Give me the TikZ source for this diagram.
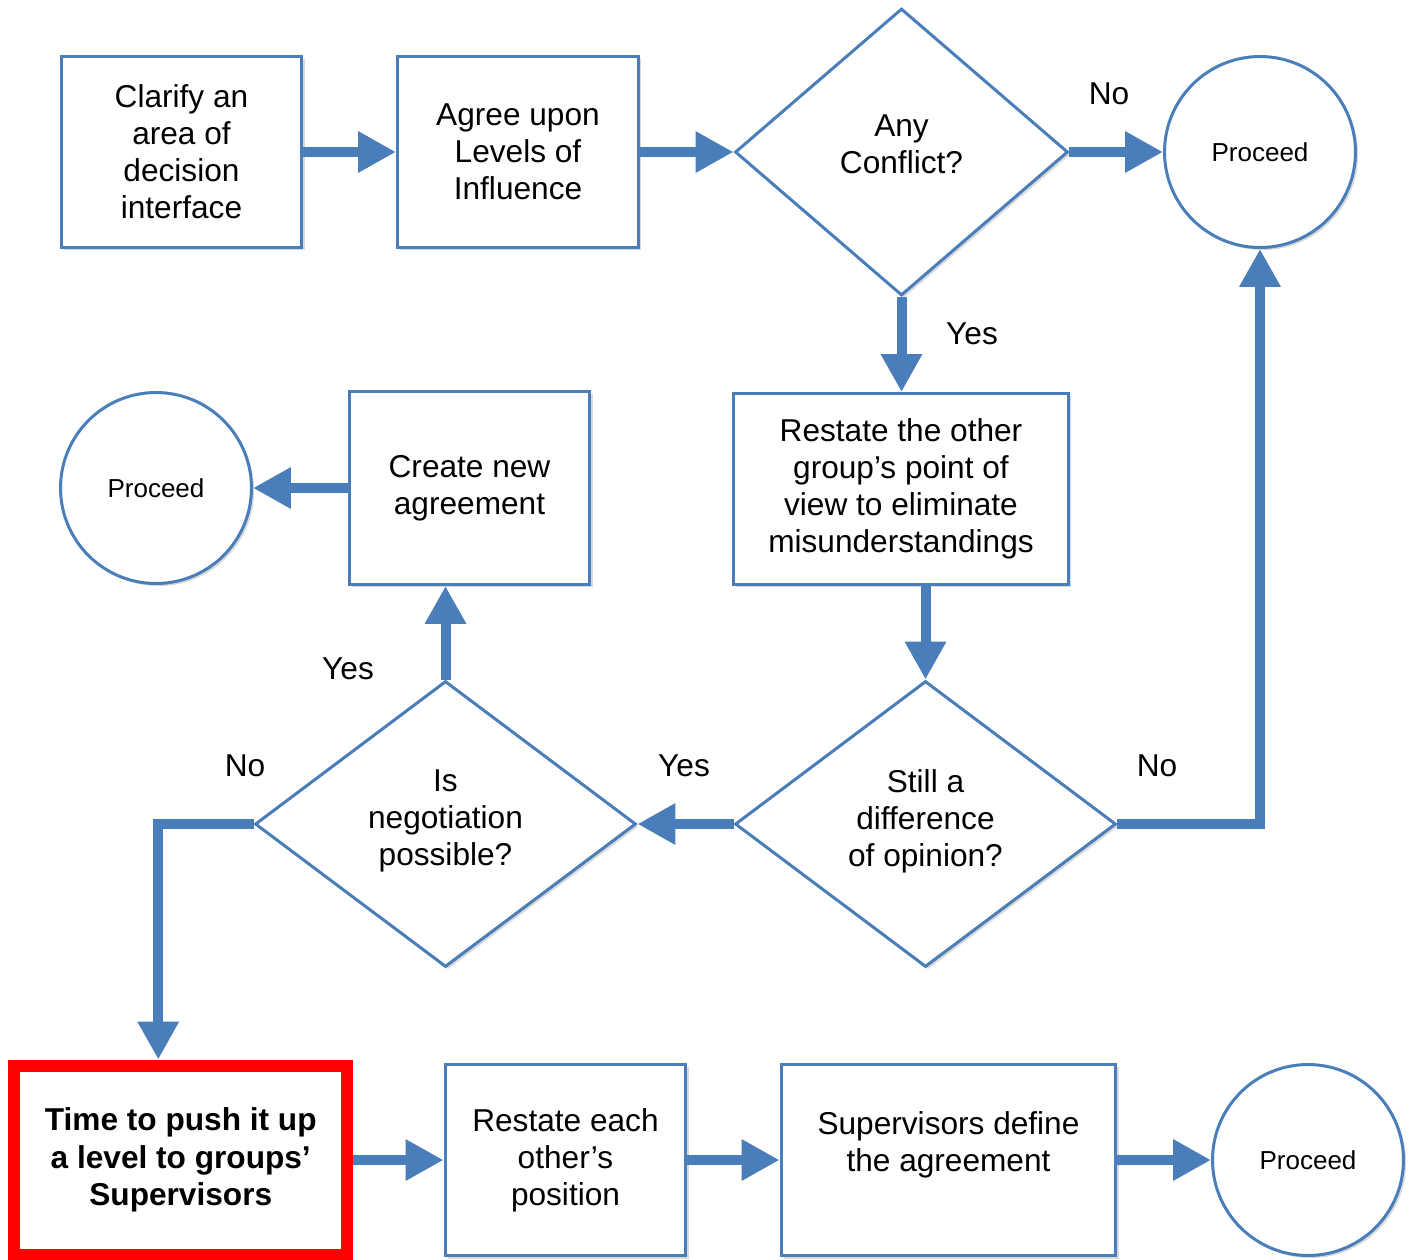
\documentclass[tikz,border=0pt]{standalone}
\usepackage{fontspec}
\setmainfont{Liberation Sans}
\usetikzlibrary{shapes.geometric,arrows.meta,shadows}
\definecolor{flowblue}{RGB}{74,126,187}
\tikzset{
  softshadow/.style={drop shadow={shadow xshift=1.5pt,shadow yshift=-1.5pt,
    opacity=0.15,fill=black}},
  stepbox/.style={rectangle,draw=flowblue,line width=0.06cm,fill=white,
    minimum width=4.82cm,minimum height=3.82cm,inner sep=2pt,align=center,
    font=\fontsize{18}{21}\selectfont,softshadow},
  widebox/.style={stepbox,minimum width=6.7cm},
  decisionnode/.style={diamond,aspect=1.33,draw=flowblue,line width=0.06cm,
    fill=white,minimum width=7.62cm,minimum height=5.72cm,inner sep=0pt,
    align=center,font=\fontsize{18}{21}\selectfont,softshadow},
  proceednode/.style={circle,draw=flowblue,line width=0.06cm,fill=white,
    minimum size=3.82cm,inner sep=0pt,font=\fontsize{14.8}{17}\selectfont,
    softshadow},
  pushbox/.style={rectangle,draw=red,line width=0.24cm,fill=white,
    minimum width=6.67cm,minimum height=3.78cm,inner sep=2pt,align=center,
    font=\fontsize{18}{21.3}\selectfont\bfseries},
  flowarrow/.style={draw=flowblue,line width=0.2cm,line join=miter,
    -{Triangle[length=0.76cm,width=0.78cm]}},
  answerlabel/.style={font=\fontsize{18}{21}\selectfont}
}

\begin{document}
\begin{tikzpicture}[x=0.02cm,y=-0.02cm]
  \useasboundingbox (0,0) rectangle (1411,1259);

  \node[stepbox] (clarify) at (181.5,152)
    {Clarify an\\area of\\decision\\interface};
  \node[stepbox] (agree) at (518,152) {Agree upon\\Levels of\\Influence};
  \node[decisionnode,aspect=1.16,minimum width=6.66cm,minimum height=5.74cm]
    (conflict) at (901.5,152) {Any\\Conflict?\\[-12pt]};
  \node[proceednode] (proceedA) at (1260,152) {Proceed};

  \node[proceednode] (proceedB) at (156,488) {Proceed};
  \node[stepbox,minimum height=3.86cm] (create) at (469.5,488)
    {Create new\\agreement};
  \node[widebox] (restate) at (901,489)
    {Restate the other\\group’s point of\\view to eliminate\\misunderstandings};

  \node[decisionnode] (negotiate) at (445.5,824)
    {Is\\negotiation\\possible?\\[-14pt]};
  \node[decisionnode] (difference) at (925.5,824)
    {Still a\\difference\\of opinion?\\[-14pt]};

  \node[pushbox] (push) at (180.75,1160)
    {Time to push it up\\a level to groups’\\Supervisors};
  \node[stepbox,minimum height=3.84cm] (restateeach) at (565.5,1160)
    {Restate each\\other’s\\position};
  \node[widebox,minimum height=3.84cm] (supervisors) at (948.5,1160)
    {Supervisors define\\the agreement\\\mbox{}};
  \node[proceednode] (proceedC) at (1308,1160) {Proceed};

  \draw[flowarrow] (clarify.east) -- (agree.west);
  \draw[flowarrow] (agree.east |- conflict.west) -- (conflict.west);
  \draw[flowarrow] (conflict.east) -- (proceedA.west);
  \draw[flowarrow] (conflict.south) -- (conflict.south |- restate.north);
  \draw[flowarrow] (restate.south -| difference.north) -- (difference.north);
  \draw[flowarrow] (difference.east) -| (proceedA.south);
  \draw[flowarrow] (difference.west) -- (negotiate.east);
  \draw[flowarrow] (negotiate.north) -- (negotiate.north |- create.south);
  \draw[flowarrow] (create.west) -- (proceedB.east);
  \draw[flowarrow] (negotiate.west) -| ([xshift=-0.45cm]push.north);
  \draw[flowarrow] (push.east) -- (restateeach.west);
  \draw[flowarrow] (restateeach.east) -- (supervisors.west);
  \draw[flowarrow] (supervisors.east) -- (proceedC.west);

  \node[answerlabel] (noconflict) at (1109,94) {No};
  \node[answerlabel] (yesconflict) at (972,334) {Yes};
  \node[answerlabel] (nodifference) at (1157,766) {No};
  \node[answerlabel] (yesdifference) at (684,766) {Yes};
  \node[answerlabel] (yesnegotiate) at (348,669) {Yes};
  \node[answerlabel] (nonegotiate) at (245,766) {No};
\end{tikzpicture}
\end{document}
